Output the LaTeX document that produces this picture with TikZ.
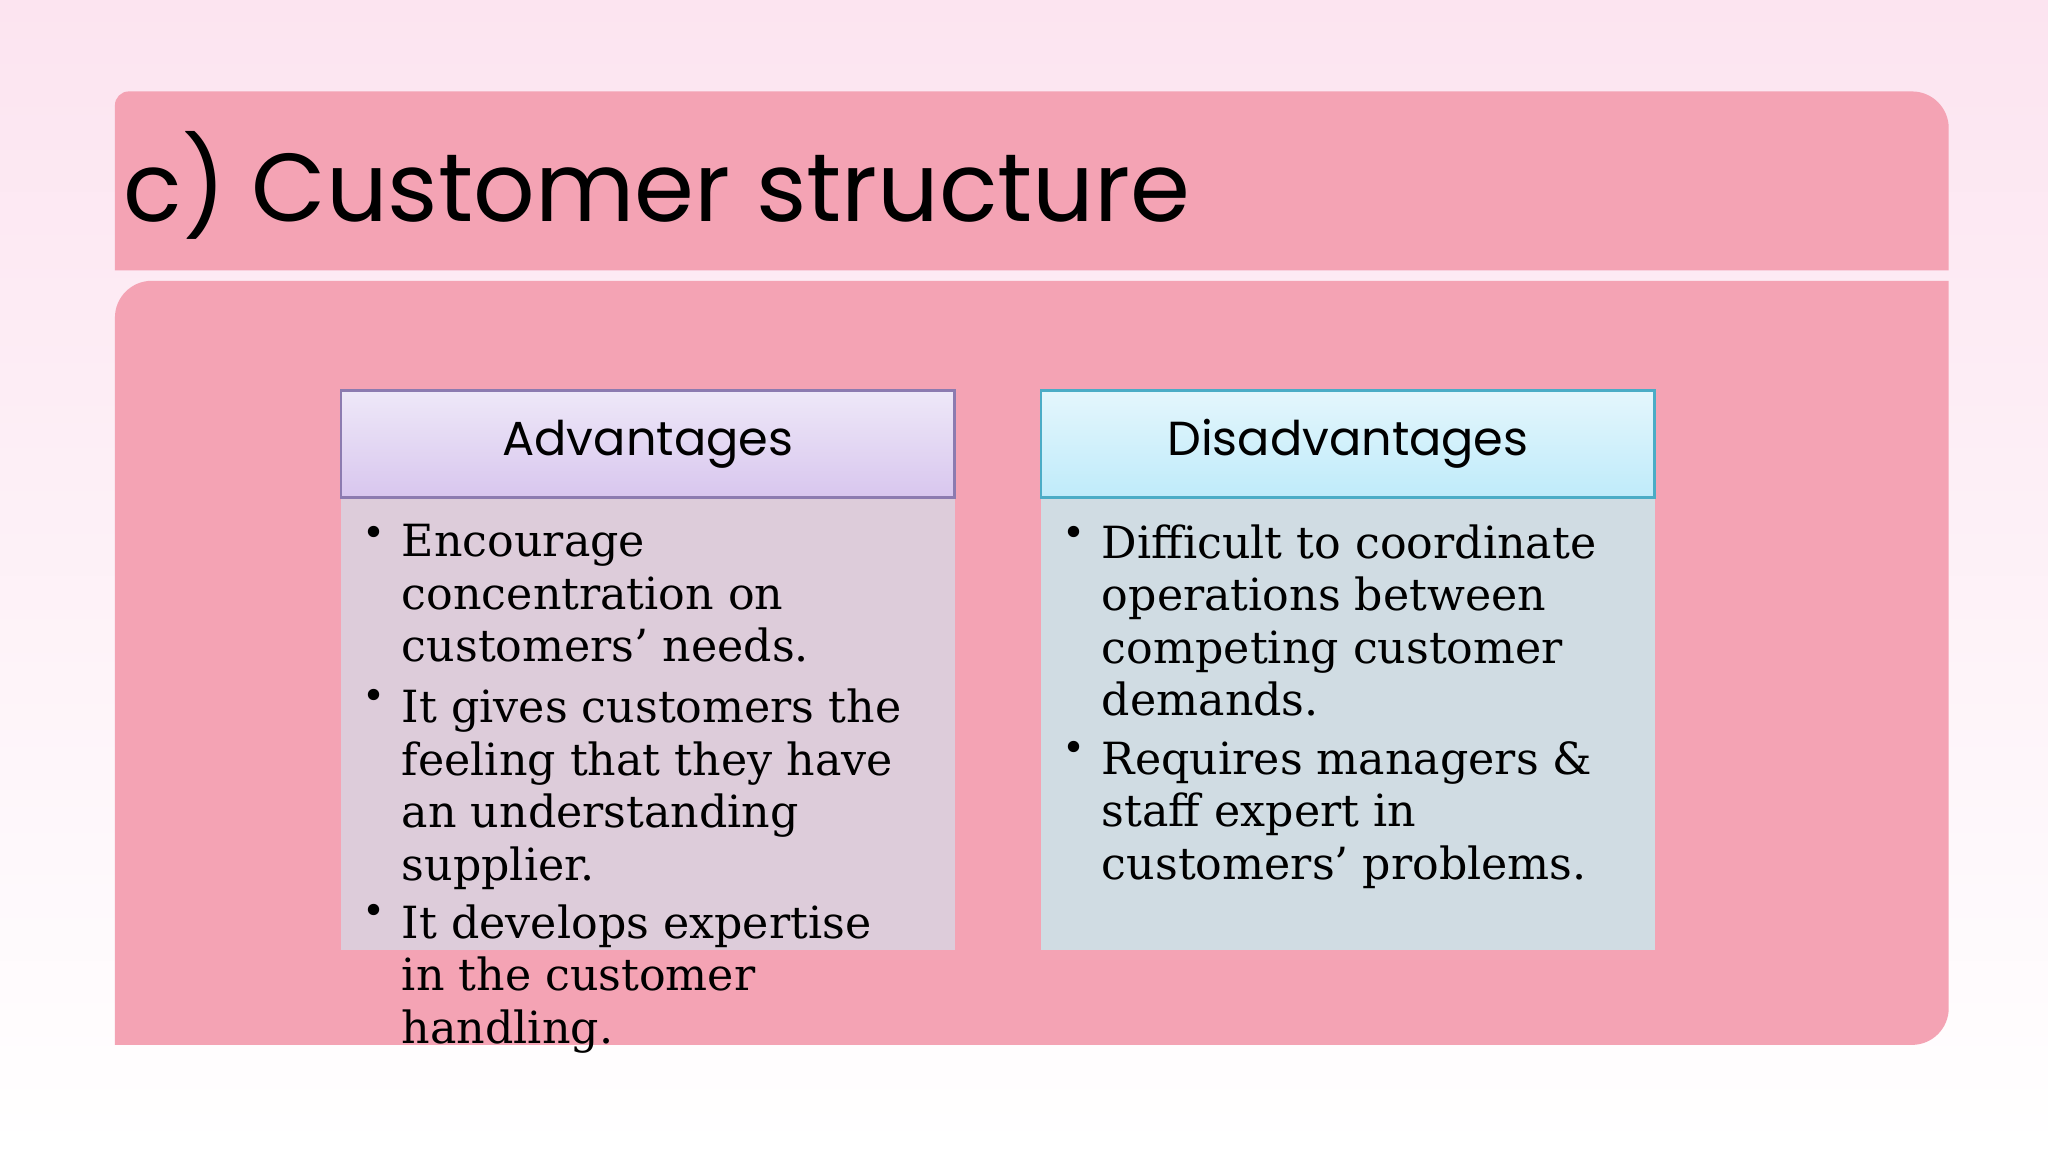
\documentclass[tikz,border=0pt]{standalone}
\usepackage{fontspec}
\setmainfont{DejaVu Serif}
\newfontfamily\gothic{Poppins}
\definecolor{bgpink}{HTML}{FCE4F0}
\definecolor{barpink}{HTML}{F4A3B4}
\definecolor{advtop}{HTML}{EEE8F8}
\definecolor{advbot}{HTML}{D8C6EE}
\definecolor{advline}{HTML}{8C7BB0}
\definecolor{advbody}{HTML}{DDCCDA}
\definecolor{distop}{HTML}{E4F6FC}
\definecolor{disbot}{HTML}{BFEBFA}
\definecolor{disline}{HTML}{4BACC6}
\definecolor{disbody}{HTML}{D0DCE3}
\tikzset{
  hdr/.style={font=\gothic\fontsize{10.4}{13}\selectfont, text=black, anchor=center},
  bul/.style={font=\fontsize{9.65}{11.4}\selectfont, anchor=north west, align=left, inner sep=0pt},
  dot/.style={font=\fontsize{8.5}{11}\selectfont, anchor=north west, inner sep=0pt}
}
\begin{document}
\begin{tikzpicture}[x=0.01cm,y=-0.01cm]
\useasboundingbox (0,0) rectangle (1568,882);
\shade[top color=bgpink, bottom color=white] (0,0) rectangle (1568,882);
% title bar
\fill[barpink] (88,207) [rounded corners=3pt] -- (88,70) [rounded corners=8pt] -- (1492,70) [sharp corners] -- (1492,207) -- cycle;
\node[font=\gothic\fontsize{21}{25}\selectfont, anchor=west, inner sep=0pt] (title) at (94,142) {c) Customer structure};
% body
\fill[barpink] (88,800) [rounded corners=8pt] -- (88,215) [sharp corners] -- (1492,215) [rounded corners=8pt] -- (1492,800) [sharp corners] -- cycle;
% advantages
\fill[advbody] (261,381) rectangle (731,727);
\shade[top color=advtop, bottom color=advbot, draw=advline, line width=0.6pt] (261,299) rectangle (731,381);
\node[hdr] (adv) at (496,340) {Advantages};
% disadvantages
\fill[disbody] (797,381) rectangle (1267,727);
\shade[top color=distop, bottom color=disbot, draw=disline, line width=0.6pt] (797,299) rectangle (1267,381);
\node[hdr] (dis) at (1032,340) {Disadvantages};
% bullets
\node[dot] (d1) at (277,402) {•};
\node[bul] (a1) at (307,401) {Encourage\\concentration on\\customers’ needs.};
\node[dot] (d2) at (277,527) {•};
\node[bul] (a2) at (307,527) {It gives customers the\\feeling that they have\\an understanding\\supplier.};
\node[dot] (d3) at (277,692) {•};
\node[bul] (a3) at (307,692) {It develops expertise\\in the customer\\handling.};
\node[dot] (e1) at (813,402) {•};
\node[bul] (b1) at (843,401) {Difficult to coordinate\\operations between\\competing customer\\demands.};
\node[dot] (e2) at (813,567) {•};
\node[bul] (b2) at (843,567) {Requires managers \&\\staff expert in\\customers’ problems.};
\end{tikzpicture}
\end{document}
